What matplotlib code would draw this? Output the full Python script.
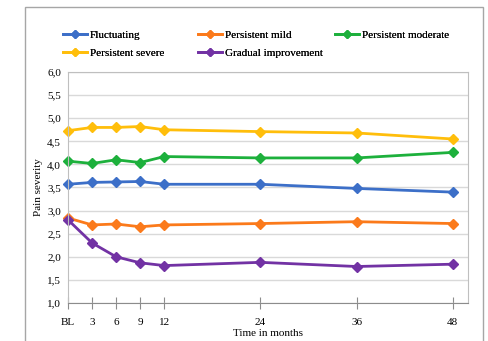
import matplotlib
matplotlib.use("Agg")
import matplotlib.pyplot as plt
from matplotlib.patches import Rectangle

months = [0, 3, 6, 9, 12, 24, 36, 48]
tick_labels = ["BL", "3", "6", "9", "12", "24", "36", "48"]

fluctuating = [3.57, 3.61, 3.62, 3.63, 3.57, 3.57, 3.48, 3.40]
persistent_mild = [2.84, 2.69, 2.71, 2.65, 2.69, 2.72, 2.76, 2.72]
persistent_moderate = [4.07, 4.02, 4.10, 4.04, 4.17, 4.14, 4.14, 4.26]
persistent_severe = [4.73, 4.80, 4.80, 4.82, 4.75, 4.71, 4.68, 4.55]
gradual_improvement = [2.80, 2.30, 2.00, 1.87, 1.81, 1.88, 1.79, 1.84]

series = [
    ("Fluctuating", fluctuating, "#3C6FC8"),
    ("Persistent mild", persistent_mild, "#FB7A1B"),
    ("Persistent moderate", persistent_moderate, "#1DB03C"),
    ("Persistent severe", persistent_severe, "#FFBE0B"),
    ("Gradual improvement", gradual_improvement, "#7232A4"),
]

plt.rcParams['font.family'] = ['Liberation Serif', 'DejaVu Serif']

W, H = 488, 341
fig = plt.figure(figsize=(W / 100, H / 100), dpi=100)
fig.patches.append(Rectangle((25/W, -0.05), (483-25)/W, 1 - 7/H + 0.05,
                             transform=fig.transFigure, fill=False,
                             edgecolor="#a6a6a6", linewidth=1.0))

ax = fig.add_axes([68/W, 1 - 303/H, (468-68)/W, (303-72)/H])

handles = []
for name, vals, col in series:
    h, = ax.plot(months, vals, color=col, linewidth=2.0, marker="D",
                 markersize=5, markeredgecolor=col, label=name, clip_on=False)
    handles.append(h)

ax.set_xlim(0, 49.9)
ax.set_ylim(1.0, 6.0)
yt = [1.0 + 0.5 * i for i in range(11)]
ax.set_yticks(yt)
ax.set_yticklabels([f"{v:.1f}".replace(".", ",") for v in yt], fontsize=8)
ax.tick_params(axis="y", length=0, pad=5)
ax.set_xticks(months)
ax.set_xticklabels(tick_labels, fontsize=8)
ax.tick_params(axis="x", direction="inout", length=9, width=0.8, color="#8c8c8c", pad=6)
ax.yaxis.grid(True, color="#d9d9d9", linewidth=1.0)
ax.set_axisbelow(True)
for s in ["top", "right", "left"]:
    ax.spines[s].set_color("#bfbfbf")
    ax.spines[s].set_linewidth(0.8)
ax.spines["bottom"].set_color("#8c8c8c")
ax.spines["bottom"].set_linewidth(0.8)

ax.set_xlabel("Time in months", fontsize=8, labelpad=2)
ax.set_ylabel("Pain severity", fontsize=8, labelpad=3)

# legend entries positioned in a 3-column grid (fixed column widths)
slots = [(63, 35), (198, 35), (335, 35), (63, 53), (198, 53)]
for (px, py), h, (name, _, _) in zip(slots, handles, series):
    leg = fig.legend([h], [name], loc="center left",
                     bbox_to_anchor=(px / W, 1 - py / H), frameon=False,
                     fontsize=8, handlelength=2.2, handletextpad=0.2,
                     borderpad=0, borderaxespad=0, markerscale=0.9)
    fig.add_artist(leg)

fig.savefig("out.png", dpi=100)
